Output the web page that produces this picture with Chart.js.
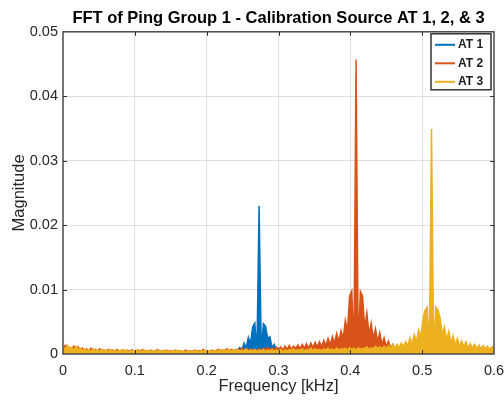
<!DOCTYPE html>
<html>
<head>
<meta charset="utf-8">
<script src="https://cdn.jsdelivr.net/npm/chart.js@4.4.1/dist/chart.umd.min.js"></script>
<style>
html,body{margin:0;padding:0;background:#fff;}
#wrap{width:504px;height:402px;overflow:hidden;}
</style>
</head>
<body>
<div id="wrap"><canvas id="c" width="504" height="402"></canvas></div>
<script>
const chartTitle = "FFT of Ping Group 1 - Calibration Source AT 1, 2, & 3";
const xLabel = "Frequency [kHz]";
const yLabel = "Magnitude";
const seriesNames = ["AT 1", "AT 2", "AT 3"];
const xTicks = [0, 0.1, 0.2, 0.3, 0.4, 0.5, 0.6];
const yTicks = [0, 0.01, 0.02, 0.03, 0.04, 0.05];

const freq = [
0,.003,.006,.009,.012,.015,.018,.021,.024,.027,
.03,.033,.036,.039,.042,.045,.048,.051,.054,.057,
.06,.063,.066,.069,.072,.075,.078,.081,.084,.087,
.09,.093,.096,.099,.102,.105,.108,.111,.114,.117,
.12,.123,.126,.129,.132,.135,.138,.141,.144,.147,
.15,.153,.156,.159,.162,.165,.168,.171,.174,.177,
.18,.183,.186,.189,.192,.195,.198,.201,.204,.207,
.21,.213,.216,.219,.222,.225,.228,.231,.234,.237,
.24,.243,.246,.249,.252,.255,.258,.261,.264,.267,
.27,.273,.276,.279,.282,.285,.288,.291,.294,.297,
.3,.303,.306,.309,.312,.315,.318,.321,.324,.327,
.33,.333,.336,.339,.342,.345,.348,.351,.354,.357,
.36,.363,.366,.369,.372,.375,.378,.381,.384,.387,
.39,.393,.396,.399,.402,.405,.408,.411,.414,.417,
.42,.423,.426,.429,.432,.435,.438,.441,.444,.447,
.45,.453,.456,.459,.462,.465,.468,.471,.474,.477,
.48,.483,.486,.489,.492,.495,.498,.501,.504,.507,
.51,.513,.516,.519,.522,.525,.528,.531,.534,.537,
.54,.543,.546,.549,.552,.555,.558,.561,.564,.567,
.57,.573,.576,.579,.582,.585,.588,.591,.594,.597,
.6];

const at1 = [
.0004,.0006,.0003,.0005,.0004,.0002,.0004,.0003,.0005,.0002,
.0003,.0004,.0002,.0003,.0004,.0002,.0003,.0002,.0004,.0003,
.0002,.0003,.0004,.0002,.0003,.0002,.0003,.0004,.0002,.0003,
.0002,.0003,.0002,.0004,.0002,.0003,.0002,.0003,.0002,.0003,
.0003,.0002,.0003,.0002,.0004,.0002,.0003,.0002,.0003,.0002,
.0003,.0002,.0004,.0003,.0002,.0003,.0002,.0004,.0003,.0002,
.0003,.0002,.0003,.0004,.0002,.0003,.0002,.0003,.0004,.0003,
.0004,.0003,.0005,.0003,.0004,.0003,.0005,.0004,.0006,.0004,
.0006,.0004,.0010,.0006,.0017,.0010,.0026,.0016,.0042,.0048,
.0003,.0230,.0004,.0047,.0043,.0024,.0027,.0010,.0015,.0006,
.0009,.0002,.0006,.0003,.0005,.0002,.0004,.0003,.0002,.0004,
.0002,.0003,.0002,.0004,.0002,.0003,.0002,.0003,.0004,.0002,
.0003,.0002,.0004,.0002,.0003,.0002,.0003,.0002,.0004,.0003,
.0002,.0003,.0002,.0003,.0004,.0002,.0003,.0002,.0003,.0002,
.0003,.0002,.0003,.0004,.0002,.0003,.0002,.0003,.0002,.0003,
.0002,.0003,.0004,.0002,.0003,.0002,.0003,.0004,.0002,.0003,
.0002,.0003,.0002,.0003,.0002,.0004,.0002,.0003,.0002,.0003,
.0003,.0002,.0004,.0002,.0003,.0002,.0003,.0002,.0003,.0004,
.0002,.0003,.0002,.0003,.0002,.0003,.0004,.0002,.0003,.0002,
.0003,.0002,.0003,.0002,.0004,.0002,.0003,.0002,.0003,.0002,
.0003];

const at2 = [
.0008,.0013,.0006,.0010,.0007,.0012,.0005,.0011,.0006,.0009,
.0005,.0008,.0004,.0009,.0005,.0007,.0004,.0008,.0005,.0006,
.0004,.0007,.0005,.0006,.0003,.0007,.0004,.0005,.0006,.0004,
.0006,.0004,.0007,.0003,.0005,.0006,.0004,.0007,.0003,.0005,
.0004,.0006,.0003,.0005,.0007,.0004,.0005,.0003,.0006,.0004,
.0005,.0003,.0006,.0004,.0005,.0003,.0004,.0006,.0003,.0005,
.0004,.0006,.0003,.0005,.0004,.0007,.0004,.0005,.0003,.0006,
.0004,.0005,.0007,.0004,.0006,.0005,.0008,.0005,.0007,.0006,
.0005,.0008,.0006,.0009,.0005,.0007,.0006,.0008,.0005,.0007,
.0006,.0008,.0005,.0009,.0007,.0010,.0006,.0009,.0007,.0011,
.0006,.0011,.0006,.0012,.0007,.0013,.0007,.0012,.0008,.0014,
.0008,.0015,.0009,.0016,.0009,.0017,.0010,.0018,.0011,.0019,
.0011,.0021,.0013,.0024,.0014,.0027,.0017,.0032,.0019,.0036,
.0024,.0052,.0035,.0090,.0098,.0003,.0457,.0004,.0097,.0090,
.0040,.0064,.0030,.0048,.0024,.0039,.0019,.0033,.0014,.0025,
.0011,.0020,.0009,.0015,.0008,.0013,.0007,.0011,.0006,.0010,
.0006,.0009,.0005,.0008,.0006,.0009,.0005,.0008,.0006,.0007,
.0005,.0008,.0006,.0009,.0005,.0007,.0006,.0008,.0005,.0007,
.0006,.0008,.0005,.0007,.0006,.0009,.0005,.0008,.0006,.0007,
.0005,.0008,.0006,.0009,.0007,.0010,.0006,.0009,.0007,.0010,
.0008];

const at3 = [
.0011,.0007,.0014,.0008,.0010,.0006,.0012,.0007,.0009,.0006,
.0008,.0005,.0007,.0004,.0008,.0005,.0006,.0004,.0007,.0005,
.0006,.0004,.0007,.0005,.0006,.0003,.0005,.0006,.0004,.0006,
.0005,.0003,.0006,.0004,.0006,.0005,.0003,.0005,.0006,.0004,
.0006,.0004,.0005,.0003,.0006,.0004,.0005,.0006,.0004,.0005,
.0003,.0005,.0004,.0006,.0003,.0005,.0004,.0003,.0005,.0004,
.0005,.0004,.0006,.0003,.0005,.0004,.0006,.0003,.0005,.0004,
.0006,.0004,.0005,.0007,.0004,.0006,.0005,.0007,.0004,.0006,
.0005,.0007,.0004,.0006,.0005,.0008,.0004,.0006,.0005,.0007,
.0004,.0006,.0005,.0007,.0004,.0006,.0005,.0007,.0004,.0006,
.0005,.0007,.0004,.0006,.0005,.0007,.0006,.0008,.0005,.0007,
.0006,.0008,.0005,.0007,.0006,.0009,.0005,.0008,.0006,.0007,
.0005,.0008,.0006,.0009,.0006,.0008,.0005,.0009,.0006,.0008,
.0007,.0009,.0006,.0010,.0007,.0009,.0006,.0010,.0007,.0009,
.0008,.0011,.0007,.0010,.0008,.0012,.0009,.0011,.0008,.0012,
.0008,.0013,.0008,.0014,.0009,.0015,.0010,.0017,.0011,.0019,
.0013,.0025,.0016,.0030,.0019,.0037,.0026,.0053,.0068,.0073,
.0003,.0349,.0004,.0073,.0068,.0056,.0030,.0042,.0022,.0035,
.0016,.0028,.0014,.0024,.0012,.0020,.0011,.0019,.0009,.0016,
.0009,.0015,.0008,.0014,.0008,.0013,.0008,.0012,.0007,.0011,
.0010];

const seriesValues = [at1, at2, at3];
const seriesColors = ["#0072BD", "#D95319", "#EDB120"];
const FONT = "'Liberation Sans', Arial, Helvetica, sans-serif";

const datasets = seriesValues.map((vals, k) => ({
  label: seriesNames[k],
  data: freq.map((f, i) => ({x: f, y: vals[i]})),
  borderColor: seriesColors[k],
  backgroundColor: seriesColors[k],
  borderWidth: 1.5,
  pointRadius: 0,
  tension: 0,
  fill: 'origin',
  order: 3 - k
}));

const frameLegendPlugin = {
  id: 'frameLegend',
  afterDraw(chart) {
    const ctx = chart.ctx;
    const a = chart.chartArea;
    const xs = chart.scales.x, ys = chart.scales.y;
    ctx.save();
    ctx.strokeStyle = '#4a4a4a';
    ctx.lineWidth = 1.5;
    ctx.strokeRect(a.left, a.top, a.right - a.left, a.bottom - a.top);
    ctx.strokeStyle = '#333333';
    ctx.lineWidth = 1;
    ctx.beginPath();
    xTicks.slice(1, -1).forEach(v => {
      const px = Math.round(xs.getPixelForValue(v)) + 0.5;
      ctx.moveTo(px, a.bottom); ctx.lineTo(px, a.bottom - 4);
      ctx.moveTo(px, a.top); ctx.lineTo(px, a.top + 4);
    });
    yTicks.slice(1, -1).forEach(v => {
      const py = Math.round(ys.getPixelForValue(v)) + 0.5;
      ctx.moveTo(a.left, py); ctx.lineTo(a.left + 4, py);
      ctx.moveTo(a.right, py); ctx.lineTo(a.right - 4, py);
    });
    ctx.stroke();
    const bx = a.right - 63, by = a.top + 2, bw = 60, bh = 56;
    ctx.fillStyle = '#ffffff';
    ctx.fillRect(bx, by, bw, bh);
    ctx.strokeStyle = '#262626';
    ctx.lineWidth = 1.4;
    ctx.strokeRect(bx, by, bw, bh);
    ctx.font = "bold 12px " + FONT;
    ctx.textBaseline = 'middle';
    ctx.textAlign = 'left';
    seriesNames.forEach((n, k) => {
      const ly = by + 11 + k * 18.5;
      ctx.strokeStyle = seriesColors[k];
      ctx.lineWidth = 2;
      ctx.beginPath();
      ctx.moveTo(bx + 4, ly); ctx.lineTo(bx + 24, ly);
      ctx.stroke();
      ctx.fillStyle = '#1a1a1a';
      ctx.fillText(n, bx + 27, ly);
    });
    ctx.restore();
  }
};

const gridColor = (ctx) => {
  const t = ctx.tick;
  if (!t) return 'rgba(0,0,0,0)';
  return (t.value <= 0 || Math.abs(t.value - (ctx.scale.max)) < 1e-9) ? 'rgba(0,0,0,0)' : '#e0e0e0';
};

new Chart(document.getElementById('c'), {
  type: 'line',
  data: { datasets },
  plugins: [frameLegendPlugin],
  options: {
    responsive: false,
    animation: false,
    devicePixelRatio: 1,
    layout: { padding: { left: 0, right: 10, top: 0, bottom: 0 } },
    plugins: {
      legend: { display: false },
      tooltip: { enabled: false },
      title: {
        display: true,
        fullSize: false,
        text: chartTitle,
        color: '#000000',
        font: { family: FONT, size: 16.5, weight: 'bold' },
        padding: { top: 9, bottom: 3 }
      }
    },
    scales: {
      x: {
        type: 'linear',
        min: xTicks[0],
        max: xTicks[xTicks.length - 1],
        afterBuildTicks: (s) => { s.ticks = xTicks.map(v => ({value: v})); },
        afterFit: (s) => { s.height = 48; s.paddingLeft = 0; s.paddingRight = 0; },
        grid: { color: gridColor, drawTicks: false, lineWidth: 1 },
        border: { display: false },
        ticks: {
          color: '#262626',
          padding: 8,
          maxRotation: 0,
          font: { family: FONT, size: 14.5 },
          callback: (v) => String(+Number(v).toFixed(1))
        },
        title: {
          display: true,
          text: xLabel,
          color: '#262626',
          font: { family: FONT, size: 16.5 },
          padding: { top: 0, bottom: 6 }
        }
      },
      y: {
        type: 'linear',
        min: yTicks[0],
        max: yTicks[yTicks.length - 1],
        afterBuildTicks: (s) => { s.ticks = yTicks.map(v => ({value: v})); },
        afterFit: (s) => { s.width = 63; s.paddingTop = 0; s.paddingBottom = 0; },
        grid: { color: gridColor, drawTicks: false, lineWidth: 1 },
        border: { display: false },
        ticks: {
          color: '#262626',
          padding: 5,
          font: { family: FONT, size: 14.5 },
          callback: (v) => String(+Number(v).toFixed(2))
        },
        title: {
          display: true,
          text: yLabel,
          color: '#262626',
          font: { family: FONT, size: 16.5 },
          padding: { top: 10, bottom: 0 }
        }
      }
    }
  }
});
</script>
</body>
</html>
